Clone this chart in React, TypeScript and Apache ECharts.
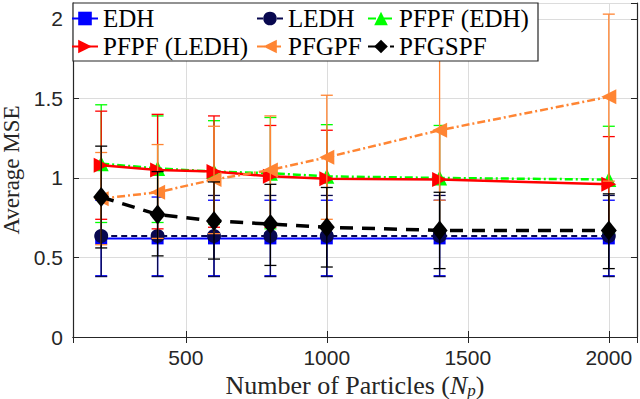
import React, { useEffect, useRef } from 'react';
import * as echarts from 'echarts';

// ---- data ----
const particles = [200, 400, 600, 800, 1000, 1400, 2000];

const edhMean = [0.62, 0.62, 0.62, 0.62, 0.62, 0.62, 0.62];
const edhLow = [0.385, 0.385, 0.385, 0.385, 0.385, 0.385, 0.385];
const edhHigh = [0.86, 0.88, 0.86, 0.86, 0.86, 0.86, 0.86];

const ledhMean = [0.635, 0.635, 0.635, 0.635, 0.635, 0.635, 0.635];
const ledhLow = [0.38, 0.38, 0.38, 0.38, 0.38, 0.38, 0.38];
const ledhHigh = [0.89, 0.91, 0.89, 0.89, 0.89, 0.89, 0.89];

const pfpfEdhMean = [1.09, 1.06, 1.04, 1.03, 1.01, 1.0, 0.99];
const pfpfEdhLow = [0.72, 0.72, 0.71, 0.68, 0.685, 0.67, 0.655];
const pfpfEdhHigh = [1.46, 1.39, 1.36, 1.38, 1.335, 1.33, 1.325];

const pfpfLedhMean = [1.08, 1.05, 1.04, 1.01, 0.995, 0.99, 0.96];
const pfpfLedhLow = [0.74, 0.68, 0.69, 0.69, 0.69, 0.68, 0.66];
const pfpfLedhHigh = [1.42, 1.4, 1.39, 1.33, 1.3, 1.3, 1.26];

const pfgpfMean = [0.87, 0.91, 0.99, 1.05, 1.13, 1.3, 1.51];
const pfgpfLow = [0.58, 0.62, 0.65, 0.71, 0.74, 0.86, 0.98];
const pfgpfHigh = [1.16, 1.21, 1.325, 1.39, 1.52, 1.78, 2.03];

const pfgspfMean = [0.88, 0.77, 0.73, 0.71, 0.69, 0.67, 0.67];
const pfgspfLow = [0.56, 0.51, 0.49, 0.45, 0.44, 0.43, 0.43];
const pfgspfHigh = [1.2, 1.04, 0.975, 0.96, 0.94, 0.91, 0.9];

const xTickLabels = [500, 1000, 1500, 2000];
const yTickLabels = [0, 0.5, 1, 1.5, 2];

const seriesNames = ['EDH', 'LEDH', 'PFPF (EDH)', 'PFPF (LEDH)', 'PFGPF', 'PFGSPF'];

type Def = {
  name: string;
  mean: number[];
  low: number[];
  high: number[];
  color: string;
  symbol: string;
  symbolSize: number | number[];
  symbolRotate: number;
  lineType: any;
  lineWidth: number;
};

const defs: Def[] = [
  { name: seriesNames[0], mean: edhMean, low: edhLow, high: edhHigh, color: '#0000ff', symbol: 'rect', symbolSize: 12, symbolRotate: 0, lineType: 'solid', lineWidth: 2 },
  { name: seriesNames[1], mean: ledhMean, low: ledhLow, high: ledhHigh, color: '#08084f', symbol: 'circle', symbolSize: 14, symbolRotate: 0, lineType: [6, 4], lineWidth: 2 },
  { name: seriesNames[2], mean: pfpfEdhMean, low: pfpfEdhLow, high: pfpfEdhHigh, color: '#00ff00', symbol: 'triangle', symbolSize: 15, symbolRotate: 0, lineType: [8, 3, 2, 3], lineWidth: 2.5 },
  { name: seriesNames[3], mean: pfpfLedhMean, low: pfpfLedhLow, high: pfpfLedhHigh, color: '#ff0000', symbol: 'triangle', symbolSize: 15, symbolRotate: -90, lineType: 'solid', lineWidth: 2.5 },
  { name: seriesNames[4], mean: pfgpfMean, low: pfgpfLow, high: pfgpfHigh, color: '#ff8533', symbol: 'triangle', symbolSize: 15, symbolRotate: 90, lineType: [8, 3, 2, 3], lineWidth: 2.5 },
  { name: seriesNames[5], mean: pfgspfMean, low: pfgspfLow, high: pfgspfHigh, color: '#000000', symbol: 'diamond', symbolSize: [16, 20], symbolRotate: 0, lineType: [13, 9], lineWidth: 3.5 },
];

const legendPos = [
  { left: 71, top: 6 },
  { left: 256, top: 6 },
  { left: 367, top: 6 },
  { left: 71, top: 34 },
  { left: 256, top: 34 },
  { left: 367, top: 34 },
];

const AXIS_COLOR = '#262626';

export default function App() {
  const ref = useRef<HTMLDivElement>(null);
  useEffect(() => {
    if (!ref.current) return;
    const chart = echarts.init(ref.current, undefined, { renderer: 'svg' });

    const series: any[] = [];
    defs.forEach((d, i) => {
      series.push({
        type: 'custom',
        name: d.name + ' error',
        z: 2 + i * 0.1,
        data: particles.map((x, k) => [x, d.low[k], d.high[k]]),
        encode: { x: 0, y: [1, 2] },
        renderItem: (params: any, api: any) => {
          const x = api.value(0);
          const lo = api.coord([x, api.value(1)]);
          const hi = api.coord([x, api.value(2)]);
          const hw = 6;
          const style = { stroke: d.color, lineWidth: 1.3, fill: 'none' };
          return {
            type: 'group',
            children: [
              { type: 'line', shape: { x1: lo[0], y1: lo[1], x2: hi[0], y2: hi[1] }, style },
              { type: 'line', shape: { x1: lo[0] - hw, y1: lo[1], x2: lo[0] + hw, y2: lo[1] }, style },
              { type: 'line', shape: { x1: hi[0] - hw, y1: hi[1], x2: hi[0] + hw, y2: hi[1] }, style },
            ],
          };
        },
      });
      series.push({
        type: 'line',
        name: d.name,
        z: 2 + i * 0.1 + 0.05,
        data: particles.map((x, k) => [x, d.mean[k]]),
        symbol: d.symbol,
        symbolSize: d.symbolSize,
        symbolRotate: d.symbolRotate,
        showAllSymbol: true,
        lineStyle: { color: d.color, width: d.lineWidth, type: d.lineType },
        itemStyle: { color: d.color, borderWidth: 0 },
        emphasis: { disabled: true },
      });
    });

    const axisCommon = {
      type: 'value',
      axisLine: { show: true, lineStyle: { color: AXIS_COLOR, width: 1.2 } },
      axisTick: { show: true, inside: true, length: 6, lineStyle: { color: AXIS_COLOR, width: 1 } },
    };

    const option: any = {
      animation: false,
      grid: { left: 73, right: 3, top: 3, bottom: 62, containLabel: false, outerBoundsMode: 'none' },
      xAxis: [
        {
          ...axisCommon,
          min: 100,
          max: 2100,
          position: 'bottom',
          splitLine: { show: true, lineStyle: { color: '#dcdcdc', width: 1 } },
          axisLabel: {
            show: true,
            margin: 10,
            fontFamily: 'Liberation Sans',
            fontSize: 21,
            color: AXIS_COLOR,
            formatter: (v: number) => (xTickLabels.indexOf(v) >= 0 ? String(v) : ''),
          },
          name: '{a|Number of Particles (}{i|N}{s|p}{a|)}',
          nameLocation: 'middle',
          nameGap: 28,
          nameTextStyle: {
            rich: {
              a: { fontFamily: 'Liberation Serif', fontSize: 26, color: AXIS_COLOR, lineHeight: 28, verticalAlign: 'top' },
              i: { fontFamily: 'Liberation Serif', fontStyle: 'italic', fontSize: 26, color: AXIS_COLOR, lineHeight: 28, verticalAlign: 'top' },
              s: { fontFamily: 'Liberation Serif', fontStyle: 'italic', fontSize: 17, color: AXIS_COLOR, lineHeight: 18, verticalAlign: 'top', padding: [9, 0, 0, 0] },
            },
          },
        },
        {
          ...axisCommon,
          min: 100,
          max: 2100,
          position: 'top',
          splitLine: { show: false },
          axisLabel: { show: false },
        },
      ],
      yAxis: [
        {
          ...axisCommon,
          min: 0,
          max: 2.1,
          interval: 0.5,
          position: 'left',
          splitLine: { show: true, lineStyle: { color: '#dcdcdc', width: 1 } },
          axisLabel: {
            show: true,
            margin: 10,
            fontFamily: 'Liberation Sans',
            fontSize: 21,
            color: AXIS_COLOR,
            formatter: (v: number) => {
              const m = yTickLabels.find((t) => Math.abs(t - v) < 1e-6);
              return m === undefined ? '' : String(m);
            },
          },
          name: 'Average MSE',
          nameLocation: 'middle',
          nameRotate: 90,
          nameGap: 49,
          nameTextStyle: { fontFamily: 'Liberation Serif', fontSize: 23, color: AXIS_COLOR },
        },
        {
          ...axisCommon,
          min: 0,
          max: 2.1,
          interval: 0.5,
          position: 'right',
          splitLine: { show: false },
          axisLabel: { show: false },
        },
      ],
      legend: defs.map((d, i) => ({
        data: [d.name],
        left: legendPos[i].left,
        top: legendPos[i].top,
        padding: 0,
        itemWidth: 26,
        itemHeight: 17,
        selectedMode: false,
        z: 10,
        textStyle: { fontFamily: 'Liberation Serif', fontSize: 25, color: '#000' },
      })),
      graphic: {
        elements: [
          {
            type: 'rect',
            z: 5,
            shape: { x: 73, y: 3, width: 465, height: 58 },
            style: { fill: '#ffffff', stroke: AXIS_COLOR, lineWidth: 1.2 },
          },
        ],
      },
      series,
    };

    chart.setOption(option);
    return () => chart.dispose();
  }, []);

  return (
    <div
      ref={ref}
      style={{ position: 'fixed', left: 0, top: 0, width: 640, height: 399, background: '#fff' }}
    />
  );
}
